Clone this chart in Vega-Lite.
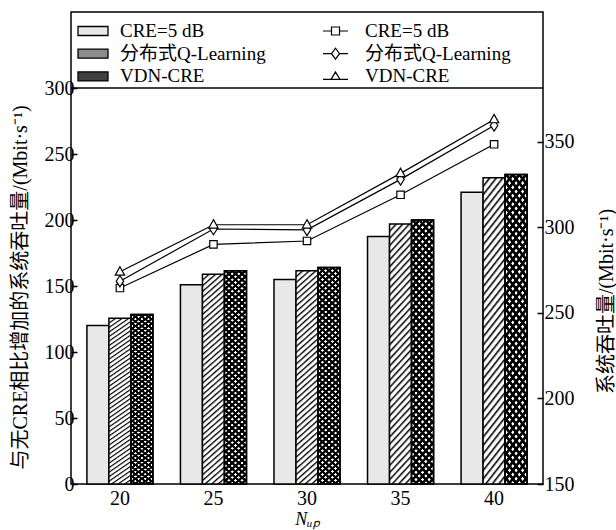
{
"$schema": "https://vega.github.io/schema/vega-lite/v6.json",
"autosize": "none",
"width": 472, "height": 472,
"padding": {"left": 71, "top": 12, "right": 73, "bottom": 46},
"background": "white",
"config": {
  "font": "Liberation Serif, Noto Sans CJK SC",
  "view": {"stroke": "black", "strokeWidth": 1.5},
  "axis": {"labelFont": "Liberation Serif, Noto Sans CJK SC", "titleFont": "Liberation Serif, Noto Sans CJK SC", "labelFontSize": 20, "labelColor": "black", "titleColor": "black", "titleFontWeight": "normal", "domain": false, "tickColor": "black", "grid": false},
  "legend": {"labelFont": "Liberation Serif, Noto Sans CJK SC", "labelFontSize": 19, "labelColor": "black"}
},
"datasets": {
  "bars": [
    {"N": 20, "bar": "CRE=5 dB", "v": 120}, {"N": 20, "bar": "分布式Q-Learning", "v": 125.5}, {"N": 20, "bar": "VDN-CRE", "v": 128.5},
    {"N": 25, "bar": "CRE=5 dB", "v": 151}, {"N": 25, "bar": "分布式Q-Learning", "v": 159}, {"N": 25, "bar": "VDN-CRE", "v": 161.5},
    {"N": 30, "bar": "CRE=5 dB", "v": 155}, {"N": 30, "bar": "分布式Q-Learning", "v": 161.5}, {"N": 30, "bar": "VDN-CRE", "v": 164},
    {"N": 35, "bar": "CRE=5 dB", "v": 187.5}, {"N": 35, "bar": "分布式Q-Learning", "v": 197}, {"N": 35, "bar": "VDN-CRE", "v": 200},
    {"N": 40, "bar": "CRE=5 dB", "v": 221}, {"N": 40, "bar": "分布式Q-Learning", "v": 232}, {"N": 40, "bar": "VDN-CRE", "v": 234.5}
  ],
  "lines": [
    {"N": 20, "line": "CRE=5 dB", "t": 264.5}, {"N": 20, "line": "分布式Q-Learning", "t": 268.5}, {"N": 20, "line": "VDN-CRE", "t": 274},
    {"N": 25, "line": "CRE=5 dB", "t": 290}, {"N": 25, "line": "分布式Q-Learning", "t": 299}, {"N": 25, "line": "VDN-CRE", "t": 301.5},
    {"N": 30, "line": "CRE=5 dB", "t": 292}, {"N": 30, "line": "分布式Q-Learning", "t": 298.5}, {"N": 30, "line": "VDN-CRE", "t": 301.5},
    {"N": 35, "line": "CRE=5 dB", "t": 319}, {"N": 35, "line": "分布式Q-Learning", "t": 328}, {"N": 35, "line": "VDN-CRE", "t": 331.5},
    {"N": 40, "line": "CRE=5 dB", "t": 348.5}, {"N": 40, "line": "分布式Q-Learning", "t": 359.5}, {"N": 40, "line": "VDN-CRE", "t": 363}
  ]
},
"layer": [
  {"layer": [
    {
      "data": {"name": "bars"},
      "mark": {"type": "bar", "stroke": "black", "strokeWidth": 1.5},
      "encoding": {
        "x": {"field": "N", "type": "ordinal", "scale": {"paddingInner": 0.294, "paddingOuter": 0.17},
              "axis": {"labelAngle": 0, "ticks": false, "labelPadding": 4, "title": "Nᵤₚ", "titleFontSize": 18, "titleFontStyle": "italic", "titlePadding": 2}},
        "xOffset": {"field": "bar", "type": "nominal", "scale": {"domain": ["CRE=5 dB", "分布式Q-Learning", "VDN-CRE"], "paddingInner": 0, "paddingOuter": 0}},
        "y": {"field": "v", "type": "quantitative", "scale": {"domain": [0, 357.6], "nice": false},
              "axis": {"orient": "left", "values": [0, 50, 100, 150, 200, 250, 300], "tickSize": -6, "tickWidth": 1.5, "labelPadding": 3,
                       "title": "与无CRE相比增加的系统吞吐量/(Mbit·s⁻¹)", "titleFontSize": 20, "titleX": -51, "titleY": 275, "titleAngle": 270, "titleAlign": "center", "titleBaseline": "middle"}},
        "fill": {"field": "bar", "type": "nominal",
          "scale": {"domain": ["CRE=5 dB", "分布式Q-Learning", "VDN-CRE"], "range": ["#e8e8e8", "#8c8c8c", "#404040"]},
          "legend": {"title": null, "orient": "none", "legendX": 11, "legendY": 8, "symbolType": "M-1.5,-0.45H1.5V0.45H-1.5Z", "symbolSize": 400, "symbolStrokeColor": "black", "symbolStrokeWidth": 1.3, "symbolOpacity": 1, "labelOffset": 16, "rowPadding": 1.7, "padding": 0},
          "condition": [
            {"test": "datum.bar === '分布式Q-Learning'", "value": {"gradient": "linear", "x1": 0, "y1": 0, "x2": 0.0993, "y2": 1.0826, "stops": [
{"offset":0,"color":"#000"},{"offset":0.0095,"color":"#fff"},{"offset":0.019,"color":"#fff"},
{"offset":0.025,"color":"#000"},{"offset":0.0345,"color":"#fff"},{"offset":0.044,"color":"#fff"},
{"offset":0.05,"color":"#000"},{"offset":0.0595,"color":"#fff"},{"offset":0.069,"color":"#fff"},
{"offset":0.075,"color":"#000"},{"offset":0.0845,"color":"#fff"},{"offset":0.094,"color":"#fff"},
{"offset":0.1,"color":"#000"},{"offset":0.1095,"color":"#fff"},{"offset":0.119,"color":"#fff"},
{"offset":0.125,"color":"#000"},{"offset":0.1345,"color":"#fff"},{"offset":0.144,"color":"#fff"},
{"offset":0.15,"color":"#000"},{"offset":0.1595,"color":"#fff"},{"offset":0.169,"color":"#fff"},
{"offset":0.175,"color":"#000"},{"offset":0.1845,"color":"#fff"},{"offset":0.194,"color":"#fff"},
{"offset":0.2,"color":"#000"},{"offset":0.2095,"color":"#fff"},{"offset":0.219,"color":"#fff"},
{"offset":0.225,"color":"#000"},{"offset":0.2345,"color":"#fff"},{"offset":0.244,"color":"#fff"},
{"offset":0.25,"color":"#000"},{"offset":0.2595,"color":"#fff"},{"offset":0.269,"color":"#fff"},
{"offset":0.275,"color":"#000"},{"offset":0.2845,"color":"#fff"},{"offset":0.294,"color":"#fff"},
{"offset":0.3,"color":"#000"},{"offset":0.3095,"color":"#fff"},{"offset":0.319,"color":"#fff"},
{"offset":0.325,"color":"#000"},{"offset":0.3345,"color":"#fff"},{"offset":0.344,"color":"#fff"},
{"offset":0.35,"color":"#000"},{"offset":0.3595,"color":"#fff"},{"offset":0.369,"color":"#fff"},
{"offset":0.375,"color":"#000"},{"offset":0.3845,"color":"#fff"},{"offset":0.394,"color":"#fff"},
{"offset":0.4,"color":"#000"},{"offset":0.4095,"color":"#fff"},{"offset":0.419,"color":"#fff"},
{"offset":0.425,"color":"#000"},{"offset":0.4345,"color":"#fff"},{"offset":0.444,"color":"#fff"},
{"offset":0.45,"color":"#000"},{"offset":0.4595,"color":"#fff"},{"offset":0.469,"color":"#fff"},
{"offset":0.475,"color":"#000"},{"offset":0.4845,"color":"#fff"},{"offset":0.494,"color":"#fff"},
{"offset":0.5,"color":"#000"},{"offset":0.5095,"color":"#fff"},{"offset":0.519,"color":"#fff"},
{"offset":0.525,"color":"#000"},{"offset":0.5345,"color":"#fff"},{"offset":0.544,"color":"#fff"},
{"offset":0.55,"color":"#000"},{"offset":0.5595,"color":"#fff"},{"offset":0.569,"color":"#fff"},
{"offset":0.575,"color":"#000"},{"offset":0.5845,"color":"#fff"},{"offset":0.594,"color":"#fff"},
{"offset":0.6,"color":"#000"},{"offset":0.6095,"color":"#fff"},{"offset":0.619,"color":"#fff"},
{"offset":0.625,"color":"#000"},{"offset":0.6345,"color":"#fff"},{"offset":0.644,"color":"#fff"},
{"offset":0.65,"color":"#000"},{"offset":0.6595,"color":"#fff"},{"offset":0.669,"color":"#fff"},
{"offset":0.675,"color":"#000"},{"offset":0.6845,"color":"#fff"},{"offset":0.694,"color":"#fff"},
{"offset":0.7,"color":"#000"},{"offset":0.7095,"color":"#fff"},{"offset":0.719,"color":"#fff"},
{"offset":0.725,"color":"#000"},{"offset":0.7345,"color":"#fff"},{"offset":0.744,"color":"#fff"},
{"offset":0.75,"color":"#000"},{"offset":0.7595,"color":"#fff"},{"offset":0.769,"color":"#fff"},
{"offset":0.775,"color":"#000"},{"offset":0.7845,"color":"#fff"},{"offset":0.794,"color":"#fff"},
{"offset":0.8,"color":"#000"},{"offset":0.8095,"color":"#fff"},{"offset":0.819,"color":"#fff"},
{"offset":0.825,"color":"#000"},{"offset":0.8345,"color":"#fff"},{"offset":0.844,"color":"#fff"},
{"offset":0.85,"color":"#000"},{"offset":0.8595,"color":"#fff"},{"offset":0.869,"color":"#fff"},
{"offset":0.875,"color":"#000"},{"offset":0.8845,"color":"#fff"},{"offset":0.894,"color":"#fff"},
{"offset":0.9,"color":"#000"},{"offset":0.9095,"color":"#fff"},{"offset":0.919,"color":"#fff"},
{"offset":0.925,"color":"#000"},{"offset":0.9345,"color":"#fff"},{"offset":0.944,"color":"#fff"},
{"offset":0.95,"color":"#000"},{"offset":0.9595,"color":"#fff"},{"offset":0.969,"color":"#fff"},
{"offset":0.975,"color":"#000"},{"offset":0.9845,"color":"#fff"},{"offset":0.994,"color":"#fff"},
{"offset":1,"color":"#000"}
            ]}},
            {"test": "datum.bar === 'VDN-CRE'", "value": {"gradient": "linear", "x1": 0, "y1": 0, "x2": 0.0993, "y2": 1.0826, "stops": [
{"offset":0,"color":"#000"},{"offset":0.01,"color":"#000"},{"offset":0.013,"color":"#fff"},{"offset":0.022,"color":"#fff"},
{"offset":0.025,"color":"#000"},{"offset":0.035,"color":"#000"},{"offset":0.038,"color":"#fff"},{"offset":0.047,"color":"#fff"},
{"offset":0.05,"color":"#000"},{"offset":0.06,"color":"#000"},{"offset":0.063,"color":"#fff"},{"offset":0.072,"color":"#fff"},
{"offset":0.075,"color":"#000"},{"offset":0.085,"color":"#000"},{"offset":0.088,"color":"#fff"},{"offset":0.097,"color":"#fff"},
{"offset":0.1,"color":"#000"},{"offset":0.11,"color":"#000"},{"offset":0.113,"color":"#fff"},{"offset":0.122,"color":"#fff"},
{"offset":0.125,"color":"#000"},{"offset":0.135,"color":"#000"},{"offset":0.138,"color":"#fff"},{"offset":0.147,"color":"#fff"},
{"offset":0.15,"color":"#000"},{"offset":0.16,"color":"#000"},{"offset":0.163,"color":"#fff"},{"offset":0.172,"color":"#fff"},
{"offset":0.175,"color":"#000"},{"offset":0.185,"color":"#000"},{"offset":0.188,"color":"#fff"},{"offset":0.197,"color":"#fff"},
{"offset":0.2,"color":"#000"},{"offset":0.21,"color":"#000"},{"offset":0.213,"color":"#fff"},{"offset":0.222,"color":"#fff"},
{"offset":0.225,"color":"#000"},{"offset":0.235,"color":"#000"},{"offset":0.238,"color":"#fff"},{"offset":0.247,"color":"#fff"},
{"offset":0.25,"color":"#000"},{"offset":0.26,"color":"#000"},{"offset":0.263,"color":"#fff"},{"offset":0.272,"color":"#fff"},
{"offset":0.275,"color":"#000"},{"offset":0.285,"color":"#000"},{"offset":0.288,"color":"#fff"},{"offset":0.297,"color":"#fff"},
{"offset":0.3,"color":"#000"},{"offset":0.31,"color":"#000"},{"offset":0.313,"color":"#fff"},{"offset":0.322,"color":"#fff"},
{"offset":0.325,"color":"#000"},{"offset":0.335,"color":"#000"},{"offset":0.338,"color":"#fff"},{"offset":0.347,"color":"#fff"},
{"offset":0.35,"color":"#000"},{"offset":0.36,"color":"#000"},{"offset":0.363,"color":"#fff"},{"offset":0.372,"color":"#fff"},
{"offset":0.375,"color":"#000"},{"offset":0.385,"color":"#000"},{"offset":0.388,"color":"#fff"},{"offset":0.397,"color":"#fff"},
{"offset":0.4,"color":"#000"},{"offset":0.41,"color":"#000"},{"offset":0.413,"color":"#fff"},{"offset":0.422,"color":"#fff"},
{"offset":0.425,"color":"#000"},{"offset":0.435,"color":"#000"},{"offset":0.438,"color":"#fff"},{"offset":0.447,"color":"#fff"},
{"offset":0.45,"color":"#000"},{"offset":0.46,"color":"#000"},{"offset":0.463,"color":"#fff"},{"offset":0.472,"color":"#fff"},
{"offset":0.475,"color":"#000"},{"offset":0.485,"color":"#000"},{"offset":0.488,"color":"#fff"},{"offset":0.497,"color":"#fff"},
{"offset":0.5,"color":"#000"},{"offset":0.51,"color":"#000"},{"offset":0.513,"color":"#fff"},{"offset":0.522,"color":"#fff"},
{"offset":0.525,"color":"#000"},{"offset":0.535,"color":"#000"},{"offset":0.538,"color":"#fff"},{"offset":0.547,"color":"#fff"},
{"offset":0.55,"color":"#000"},{"offset":0.56,"color":"#000"},{"offset":0.563,"color":"#fff"},{"offset":0.572,"color":"#fff"},
{"offset":0.575,"color":"#000"},{"offset":0.585,"color":"#000"},{"offset":0.588,"color":"#fff"},{"offset":0.597,"color":"#fff"},
{"offset":0.6,"color":"#000"},{"offset":0.61,"color":"#000"},{"offset":0.613,"color":"#fff"},{"offset":0.622,"color":"#fff"},
{"offset":0.625,"color":"#000"},{"offset":0.635,"color":"#000"},{"offset":0.638,"color":"#fff"},{"offset":0.647,"color":"#fff"},
{"offset":0.65,"color":"#000"},{"offset":0.66,"color":"#000"},{"offset":0.663,"color":"#fff"},{"offset":0.672,"color":"#fff"},
{"offset":0.675,"color":"#000"},{"offset":0.685,"color":"#000"},{"offset":0.688,"color":"#fff"},{"offset":0.697,"color":"#fff"},
{"offset":0.7,"color":"#000"},{"offset":0.71,"color":"#000"},{"offset":0.713,"color":"#fff"},{"offset":0.722,"color":"#fff"},
{"offset":0.725,"color":"#000"},{"offset":0.735,"color":"#000"},{"offset":0.738,"color":"#fff"},{"offset":0.747,"color":"#fff"},
{"offset":0.75,"color":"#000"},{"offset":0.76,"color":"#000"},{"offset":0.763,"color":"#fff"},{"offset":0.772,"color":"#fff"},
{"offset":0.775,"color":"#000"},{"offset":0.785,"color":"#000"},{"offset":0.788,"color":"#fff"},{"offset":0.797,"color":"#fff"},
{"offset":0.8,"color":"#000"},{"offset":0.81,"color":"#000"},{"offset":0.813,"color":"#fff"},{"offset":0.822,"color":"#fff"},
{"offset":0.825,"color":"#000"},{"offset":0.835,"color":"#000"},{"offset":0.838,"color":"#fff"},{"offset":0.847,"color":"#fff"},
{"offset":0.85,"color":"#000"},{"offset":0.86,"color":"#000"},{"offset":0.863,"color":"#fff"},{"offset":0.872,"color":"#fff"},
{"offset":0.875,"color":"#000"},{"offset":0.885,"color":"#000"},{"offset":0.888,"color":"#fff"},{"offset":0.897,"color":"#fff"},
{"offset":0.9,"color":"#000"},{"offset":0.91,"color":"#000"},{"offset":0.913,"color":"#fff"},{"offset":0.922,"color":"#fff"},
{"offset":0.925,"color":"#000"},{"offset":0.935,"color":"#000"},{"offset":0.938,"color":"#fff"},{"offset":0.947,"color":"#fff"},
{"offset":0.95,"color":"#000"},{"offset":0.96,"color":"#000"},{"offset":0.963,"color":"#fff"},{"offset":0.972,"color":"#fff"},
{"offset":0.975,"color":"#000"},{"offset":0.985,"color":"#000"},{"offset":0.988,"color":"#fff"},{"offset":0.997,"color":"#fff"},
{"offset":1,"color":"#000"}
            ]}}
          ]
        }
      }
    },
    {
      "data": {"name": "bars"},
      "transform": [{"filter": "datum.bar === 'VDN-CRE'"}],
      "mark": {"type": "bar", "stroke": "black", "strokeWidth": 1.5,
        "fill": {"gradient": "linear", "x1": 1, "y1": 0, "x2": 0.9007, "y2": 1.0826, "stops": [
{"offset":0,"color":"#000"},{"offset":0.01,"color":"#000"},{"offset":0.013,"color":"rgba(0,0,0,0)"},{"offset":0.022,"color":"rgba(0,0,0,0)"},
{"offset":0.025,"color":"#000"},{"offset":0.035,"color":"#000"},{"offset":0.038,"color":"rgba(0,0,0,0)"},{"offset":0.047,"color":"rgba(0,0,0,0)"},
{"offset":0.05,"color":"#000"},{"offset":0.06,"color":"#000"},{"offset":0.063,"color":"rgba(0,0,0,0)"},{"offset":0.072,"color":"rgba(0,0,0,0)"},
{"offset":0.075,"color":"#000"},{"offset":0.085,"color":"#000"},{"offset":0.088,"color":"rgba(0,0,0,0)"},{"offset":0.097,"color":"rgba(0,0,0,0)"},
{"offset":0.1,"color":"#000"},{"offset":0.11,"color":"#000"},{"offset":0.113,"color":"rgba(0,0,0,0)"},{"offset":0.122,"color":"rgba(0,0,0,0)"},
{"offset":0.125,"color":"#000"},{"offset":0.135,"color":"#000"},{"offset":0.138,"color":"rgba(0,0,0,0)"},{"offset":0.147,"color":"rgba(0,0,0,0)"},
{"offset":0.15,"color":"#000"},{"offset":0.16,"color":"#000"},{"offset":0.163,"color":"rgba(0,0,0,0)"},{"offset":0.172,"color":"rgba(0,0,0,0)"},
{"offset":0.175,"color":"#000"},{"offset":0.185,"color":"#000"},{"offset":0.188,"color":"rgba(0,0,0,0)"},{"offset":0.197,"color":"rgba(0,0,0,0)"},
{"offset":0.2,"color":"#000"},{"offset":0.21,"color":"#000"},{"offset":0.213,"color":"rgba(0,0,0,0)"},{"offset":0.222,"color":"rgba(0,0,0,0)"},
{"offset":0.225,"color":"#000"},{"offset":0.235,"color":"#000"},{"offset":0.238,"color":"rgba(0,0,0,0)"},{"offset":0.247,"color":"rgba(0,0,0,0)"},
{"offset":0.25,"color":"#000"},{"offset":0.26,"color":"#000"},{"offset":0.263,"color":"rgba(0,0,0,0)"},{"offset":0.272,"color":"rgba(0,0,0,0)"},
{"offset":0.275,"color":"#000"},{"offset":0.285,"color":"#000"},{"offset":0.288,"color":"rgba(0,0,0,0)"},{"offset":0.297,"color":"rgba(0,0,0,0)"},
{"offset":0.3,"color":"#000"},{"offset":0.31,"color":"#000"},{"offset":0.313,"color":"rgba(0,0,0,0)"},{"offset":0.322,"color":"rgba(0,0,0,0)"},
{"offset":0.325,"color":"#000"},{"offset":0.335,"color":"#000"},{"offset":0.338,"color":"rgba(0,0,0,0)"},{"offset":0.347,"color":"rgba(0,0,0,0)"},
{"offset":0.35,"color":"#000"},{"offset":0.36,"color":"#000"},{"offset":0.363,"color":"rgba(0,0,0,0)"},{"offset":0.372,"color":"rgba(0,0,0,0)"},
{"offset":0.375,"color":"#000"},{"offset":0.385,"color":"#000"},{"offset":0.388,"color":"rgba(0,0,0,0)"},{"offset":0.397,"color":"rgba(0,0,0,0)"},
{"offset":0.4,"color":"#000"},{"offset":0.41,"color":"#000"},{"offset":0.413,"color":"rgba(0,0,0,0)"},{"offset":0.422,"color":"rgba(0,0,0,0)"},
{"offset":0.425,"color":"#000"},{"offset":0.435,"color":"#000"},{"offset":0.438,"color":"rgba(0,0,0,0)"},{"offset":0.447,"color":"rgba(0,0,0,0)"},
{"offset":0.45,"color":"#000"},{"offset":0.46,"color":"#000"},{"offset":0.463,"color":"rgba(0,0,0,0)"},{"offset":0.472,"color":"rgba(0,0,0,0)"},
{"offset":0.475,"color":"#000"},{"offset":0.485,"color":"#000"},{"offset":0.488,"color":"rgba(0,0,0,0)"},{"offset":0.497,"color":"rgba(0,0,0,0)"},
{"offset":0.5,"color":"#000"},{"offset":0.51,"color":"#000"},{"offset":0.513,"color":"rgba(0,0,0,0)"},{"offset":0.522,"color":"rgba(0,0,0,0)"},
{"offset":0.525,"color":"#000"},{"offset":0.535,"color":"#000"},{"offset":0.538,"color":"rgba(0,0,0,0)"},{"offset":0.547,"color":"rgba(0,0,0,0)"},
{"offset":0.55,"color":"#000"},{"offset":0.56,"color":"#000"},{"offset":0.563,"color":"rgba(0,0,0,0)"},{"offset":0.572,"color":"rgba(0,0,0,0)"},
{"offset":0.575,"color":"#000"},{"offset":0.585,"color":"#000"},{"offset":0.588,"color":"rgba(0,0,0,0)"},{"offset":0.597,"color":"rgba(0,0,0,0)"},
{"offset":0.6,"color":"#000"},{"offset":0.61,"color":"#000"},{"offset":0.613,"color":"rgba(0,0,0,0)"},{"offset":0.622,"color":"rgba(0,0,0,0)"},
{"offset":0.625,"color":"#000"},{"offset":0.635,"color":"#000"},{"offset":0.638,"color":"rgba(0,0,0,0)"},{"offset":0.647,"color":"rgba(0,0,0,0)"},
{"offset":0.65,"color":"#000"},{"offset":0.66,"color":"#000"},{"offset":0.663,"color":"rgba(0,0,0,0)"},{"offset":0.672,"color":"rgba(0,0,0,0)"},
{"offset":0.675,"color":"#000"},{"offset":0.685,"color":"#000"},{"offset":0.688,"color":"rgba(0,0,0,0)"},{"offset":0.697,"color":"rgba(0,0,0,0)"},
{"offset":0.7,"color":"#000"},{"offset":0.71,"color":"#000"},{"offset":0.713,"color":"rgba(0,0,0,0)"},{"offset":0.722,"color":"rgba(0,0,0,0)"},
{"offset":0.725,"color":"#000"},{"offset":0.735,"color":"#000"},{"offset":0.738,"color":"rgba(0,0,0,0)"},{"offset":0.747,"color":"rgba(0,0,0,0)"},
{"offset":0.75,"color":"#000"},{"offset":0.76,"color":"#000"},{"offset":0.763,"color":"rgba(0,0,0,0)"},{"offset":0.772,"color":"rgba(0,0,0,0)"},
{"offset":0.775,"color":"#000"},{"offset":0.785,"color":"#000"},{"offset":0.788,"color":"rgba(0,0,0,0)"},{"offset":0.797,"color":"rgba(0,0,0,0)"},
{"offset":0.8,"color":"#000"},{"offset":0.81,"color":"#000"},{"offset":0.813,"color":"rgba(0,0,0,0)"},{"offset":0.822,"color":"rgba(0,0,0,0)"},
{"offset":0.825,"color":"#000"},{"offset":0.835,"color":"#000"},{"offset":0.838,"color":"rgba(0,0,0,0)"},{"offset":0.847,"color":"rgba(0,0,0,0)"},
{"offset":0.85,"color":"#000"},{"offset":0.86,"color":"#000"},{"offset":0.863,"color":"rgba(0,0,0,0)"},{"offset":0.872,"color":"rgba(0,0,0,0)"},
{"offset":0.875,"color":"#000"},{"offset":0.885,"color":"#000"},{"offset":0.888,"color":"rgba(0,0,0,0)"},{"offset":0.897,"color":"rgba(0,0,0,0)"},
{"offset":0.9,"color":"#000"},{"offset":0.91,"color":"#000"},{"offset":0.913,"color":"rgba(0,0,0,0)"},{"offset":0.922,"color":"rgba(0,0,0,0)"},
{"offset":0.925,"color":"#000"},{"offset":0.935,"color":"#000"},{"offset":0.938,"color":"rgba(0,0,0,0)"},{"offset":0.947,"color":"rgba(0,0,0,0)"},
{"offset":0.95,"color":"#000"},{"offset":0.96,"color":"#000"},{"offset":0.963,"color":"rgba(0,0,0,0)"},{"offset":0.972,"color":"rgba(0,0,0,0)"},
{"offset":0.975,"color":"#000"},{"offset":0.985,"color":"#000"},{"offset":0.988,"color":"rgba(0,0,0,0)"},{"offset":0.997,"color":"rgba(0,0,0,0)"},
{"offset":1,"color":"#000"}
        ]}},
      "encoding": {
        "x": {"field": "N", "type": "ordinal"},
        "xOffset": {"field": "bar", "type": "nominal"},
        "y": {"field": "v", "type": "quantitative"}
      }
    },
    {
      "data": {"values": [{}]},
      "mark": {"type": "rule", "stroke": "black", "strokeWidth": 1.5},
      "encoding": {"y": {"datum": 300, "type": "quantitative"}}
    }
  ]},
  {"layer": [
    {
      "data": {"name": "lines"},
      "mark": {"type": "line", "stroke": "black", "strokeWidth": 1.2},
      "encoding": {
        "x": {"field": "N", "type": "ordinal"},
        "y": {"field": "t", "type": "quantitative", "scale": {"domain": [150, 425.8], "nice": false, "zero": false},
              "axis": {"orient": "right", "values": [150, 200, 250, 300, 350], "tickSize": -6, "tickWidth": 1.5, "labelPadding": 7,
                       "title": "系统吞吐量/(Mbit·s⁻¹)", "titleFontSize": 20, "titleX": 63, "titleY": 289, "titleAngle": 270, "titleAlign": "center", "titleBaseline": "middle"}},
        "detail": {"field": "line", "type": "nominal"}
      }
    },
    {
      "data": {"name": "lines"},
      "mark": {"type": "point", "filled": true, "fill": "white", "stroke": "black", "strokeWidth": 1.2, "size": 144, "opacity": 1},
      "encoding": {
        "x": {"field": "N", "type": "ordinal"},
        "y": {"field": "t", "type": "quantitative"},
        "shape": {"field": "line", "type": "nominal", "sort": ["CRE=5 dB", "分布式Q-Learning", "VDN-CRE"], "legend": null,
          "scale": {"range": ["M-0.62,-0.62H0.62V0.62H-0.62Z", "M0,-0.95L0.62,0L0,0.95L-0.62,0Z", "M0,-0.85L0.78,0.55L-0.78,0.55Z"]}}
      }
    }
  ]},
  {
    "data": {"name": "lines"},
    "mark": {"type": "point", "filled": true, "fill": "white", "stroke": "black", "strokeWidth": 1.2, "opacity": 0},
    "encoding": {
      "shape": {"field": "line", "type": "nominal", "sort": ["CRE=5 dB", "分布式Q-Learning", "VDN-CRE"],
        "scale": {"range": ["M-1.25,0H-0.4M0.4,0H1.25M-0.4,-0.4H0.4V0.4H-0.4Z", "M-1.25,0H-0.4M0.4,0H1.25M-0.4,0L0,-0.55L0.4,0L0,0.55Z", "M-1.25,0.3H-0.45M0.45,0.3H1.25M-0.45,0.3L0,-0.45L0.45,0.3Z"]},
        "legend": {"title": null, "orient": "none", "legendX": 253.5, "legendY": 8, "symbolSize": 400, "symbolOpacity": 1, "symbolStrokeWidth": 1.2, "labelOffset": 18.5, "rowPadding": 1.7, "padding": 0}
      }
    }
  }
],
"resolve": {"scale": {"y": "independent", "shape": "independent"}}
}
